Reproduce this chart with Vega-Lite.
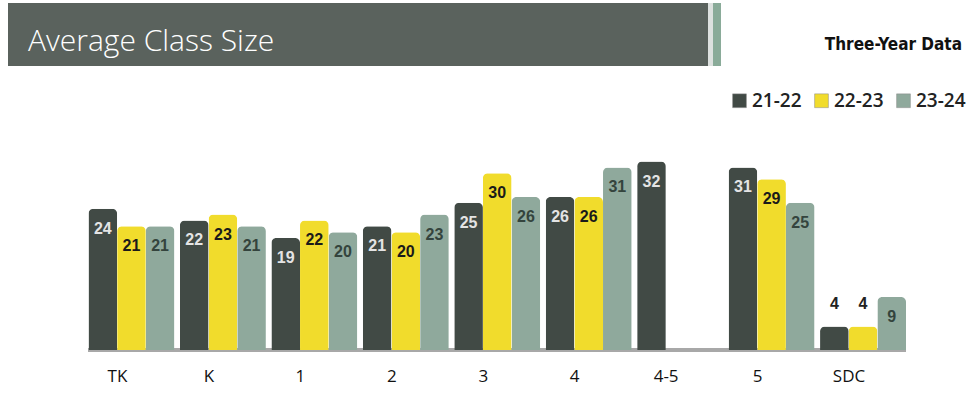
{
  "$schema": "https://vega.github.io/schema/vega-lite/v6.json",
  "background": "white",
  "padding": {"left": 8, "top": 3, "right": 0, "bottom": 8},
  "config": {"view": {"stroke": null}, "font": "Open Sans"},
  "spacing": 19,
  "vconcat": [
    {
      "spacing": 0,
      "hconcat": [
        {
          "width": 700, "height": 63,
          "data": {"values": [{}]},
          "mark": {"type": "rect", "fill": "#5a625d"},
          "encoding": {},
          "title": {"text": "Average Class Size", "anchor": "start", "frame": "group", "orient": "top", "offset": -54, "dx": 20, "color": "white", "fontSize": 30, "font": "Open Sans", "fontWeight": 300}
        },
        {
          "width": 5, "height": 63,
          "data": {"values": [{}]},
          "mark": {"type": "rect", "fill": "#dde1df"},
          "encoding": {}
        },
        {
          "width": 8, "height": 63,
          "data": {"values": [{}]},
          "mark": {"type": "rect", "fill": "#8aab99"},
          "encoding": {}
        },
        {
          "width": 249, "height": 63,
          "data": {"values": [{}]},
          "mark": {"type": "rect", "fill": "#ffffff"},
          "encoding": {},
          "title": {"text": "Three-Year Data", "anchor": "end", "frame": "group", "orient": "top", "offset": -51, "dx": -8, "color": "#111111", "fontSize": 17, "font": "DejaVu Sans Condensed", "fontWeight": "bold"}
        }
      ]
    },
    {
      "width": 898,
      "height": 265,
      "data": {"values": [
        {"g": "TK", "y": "21-22", "v": 24}, {"g": "TK", "y": "22-23", "v": 21}, {"g": "TK", "y": "23-24", "v": 21},
        {"g": "K", "y": "21-22", "v": 22}, {"g": "K", "y": "22-23", "v": 23}, {"g": "K", "y": "23-24", "v": 21},
        {"g": "1", "y": "21-22", "v": 19}, {"g": "1", "y": "22-23", "v": 22}, {"g": "1", "y": "23-24", "v": 20},
        {"g": "2", "y": "21-22", "v": 21}, {"g": "2", "y": "22-23", "v": 20}, {"g": "2", "y": "23-24", "v": 23},
        {"g": "3", "y": "21-22", "v": 25}, {"g": "3", "y": "22-23", "v": 30}, {"g": "3", "y": "23-24", "v": 26},
        {"g": "4", "y": "21-22", "v": 26}, {"g": "4", "y": "22-23", "v": 26}, {"g": "4", "y": "23-24", "v": 31},
        {"g": "4-5", "y": "21-22", "v": 32},
        {"g": "5", "y": "21-22", "v": 31}, {"g": "5", "y": "22-23", "v": 29}, {"g": "5", "y": "23-24", "v": 25},
        {"g": "SDC", "y": "21-22", "v": 4}, {"g": "SDC", "y": "22-23", "v": 4}, {"g": "SDC", "y": "23-24", "v": 9}
      ]},
      "encoding": {
        "x": {
          "field": "g", "type": "nominal",
          "sort": ["TK", "K", "1", "2", "3", "4", "4-5", "5", "SDC"],
          "scale": {"paddingInner": 0.06, "paddingOuter": 0.44, "align": 1},
          "axis": {"title": null, "labelAngle": 0, "ticks": false, "domain": false, "labelPadding": 18, "labelOffset": -14, "labelFontSize": 17, "labelColor": "#111111", "labelFont": "Open Sans"}
        },
        "xOffset": {"field": "y", "sort": ["21-22", "22-23", "23-24"]},
        "y": {"field": "v", "type": "quantitative", "scale": {"domain": [0, 45], "nice": false}, "axis": null}
      },
      "layer": [
        {
          "mark": {"type": "rule", "color": "#a8a8a8", "strokeWidth": 3},
          "encoding": {
            "x": {"datum": "TK", "type": "nominal", "bandPosition": 0},
            "x2": {"datum": "SDC", "bandPosition": 1},
            "xOffset": null,
            "y": {"datum": 0, "type": "quantitative"}
          }
        },
        {
          "mark": {"type": "bar", "cornerRadiusTopLeft": 5, "cornerRadiusTopRight": 5},
          "encoding": {
            "color": {
              "field": "y", "type": "nominal",
              "scale": {"domain": ["21-22", "22-23", "23-24"], "range": ["#414a45", "#f1dc2c", "#8fa99c"]},
              "legend": {"title": null, "orient": "none", "legendX": 722, "legendY": 88, "direction": "horizontal", "symbolType": "square", "symbolSize": 190, "symbolStrokeColor": "#888888", "symbolStrokeWidth": 0.5, "labelFontSize": 19, "labelFont": "Open Sans", "labelFontWeight": 600, "labelColor": "#222222", "columnPadding": 10, "labelOffset": 3}
            }
          }
        },
        {
          "transform": [{"filter": "datum.v >= 8"}],
          "mark": {"type": "text", "baseline": "top", "dy": 12, "fontSize": 16, "font": "Liberation Sans", "fontWeight": "bold"},
          "encoding": {
            "text": {"field": "v"},
            "color": {"condition": [{"test": "datum.y === '22-23'", "value": "#1a1a1a"}, {"test": "datum.y === '23-24'", "value": "#34443d"}], "value": "#e4e4e4"}
          }
        },
        {
          "transform": [{"filter": "datum.v < 8"}],
          "mark": {"type": "text", "baseline": "bottom", "dy": -14, "fontSize": 16, "font": "Liberation Sans", "fontWeight": "bold", "color": "#222222"},
          "encoding": {"text": {"field": "v"}}
        }
      ]
    }
  ]
}
